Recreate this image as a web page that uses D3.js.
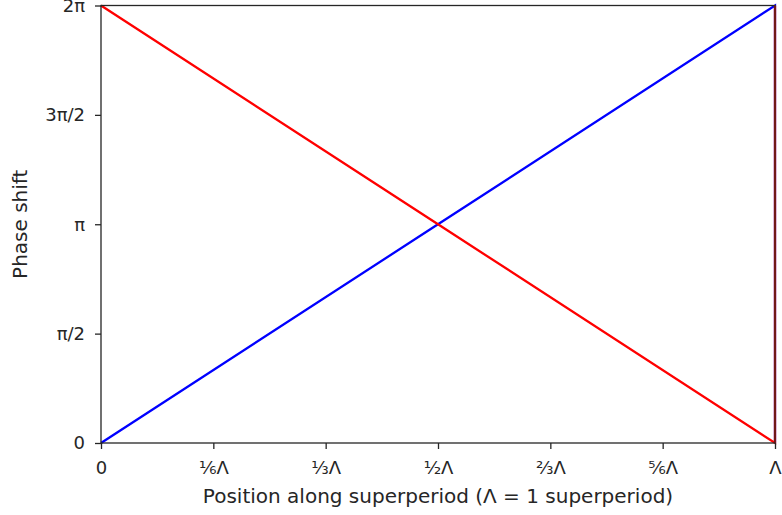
<!DOCTYPE html>
<html>
<head>
<meta charset="utf-8">
<script src="https://cdn.jsdelivr.net/npm/d3@7"></script>
<style>
  body { margin: 0; background: #fff; overflow: hidden; }
  svg text { font-family: "DejaVu Sans", sans-serif; fill: #262626; }
</style>
</head>
<body>
<div id="chart"></div>
<script>
// data: position in superperiods, phase in radians (wraps at 2π)
const blueX = [0, 0.5, 1, 1];
const blueY = [0, Math.PI, 2 * Math.PI, 0];
const redX = [0, 0.5, 1, 1];
const redY = [2 * Math.PI, Math.PI, 0, 2 * Math.PI];

const xTicks = [0, 1/6, 1/3, 1/2, 2/3, 5/6, 1];
const xTickLabels = ["0", "⅙Λ", "⅓Λ", "½Λ", "⅔Λ", "⅚Λ", "Λ"];
const yTicks = [0, Math.PI / 2, Math.PI, 3 * Math.PI / 2, 2 * Math.PI];
const yTickLabels = ["0", "π/2", "π", "3π/2", "2π"];

const width = 782, height = 515;
const margin = { left: 101, right: 7, top: 5.5, bottom: 72 };

const svg = d3.select("#chart").append("svg")
    .attr("width", width)
    .attr("height", height);

const x = d3.scaleLinear().domain([0, 1]).range([margin.left, width - margin.right]);
const y = d3.scaleLinear().domain([0, 2 * Math.PI]).range([height - margin.bottom, margin.top]);

// lines
const line = d3.line().x(d => x(d[0])).y(d => y(d[1]));
svg.append("path")
    .datum(d3.zip(blueX, blueY))
    .attr("d", line)
    .attr("fill", "none")
    .attr("stroke", "#0000ff")
    .attr("stroke-width", 2.3);
svg.append("path")
    .datum(d3.zip(redX, redY))
    .attr("d", line)
    .attr("fill", "none")
    .attr("stroke", "#ff0000")
    .attr("stroke-width", 2.3);

// frame
svg.append("rect")
    .attr("x", x(0)).attr("y", y(2 * Math.PI))
    .attr("width", x(1) - x(0)).attr("height", y(0) - y(2 * Math.PI))
    .attr("fill", "none")
    .attr("stroke", "#262626")
    .attr("stroke-width", 1.3);

// axes
const xAxis = d3.axisBottom(x)
    .tickValues(xTicks)
    .tickFormat((d, i) => xTickLabels[i])
    .tickSize(6).tickPadding(12);
const yAxis = d3.axisLeft(y)
    .tickValues(yTicks)
    .tickFormat((d, i) => yTickLabels[i])
    .tickSize(6).tickPadding(10);

const gx = svg.append("g").attr("transform", "translate(0," + y(0) + ")").call(xAxis);
const gy = svg.append("g").attr("transform", "translate(" + x(0) + ",0)").call(yAxis);
[gx, gy].forEach(g => {
    g.select(".domain").remove();
    g.selectAll(".tick line").attr("stroke", "#262626").attr("stroke-width", 1.3);
    g.selectAll(".tick text").attr("font-size", 18).attr("font-family", null).attr("fill", null);
});

// axis titles
svg.append("text")
    .attr("x", (x(0) + x(1)) / 2)
    .attr("y", 503)
    .attr("text-anchor", "middle")
    .attr("font-size", 20)
    .text("Position along superperiod (Λ = 1 superperiod)");
svg.append("text")
    .attr("transform", "translate(27," + (y(Math.PI)) + ") rotate(-90)")
    .attr("text-anchor", "middle")
    .attr("font-size", 20)
    .text("Phase shift");
</script>
</body>
</html>
